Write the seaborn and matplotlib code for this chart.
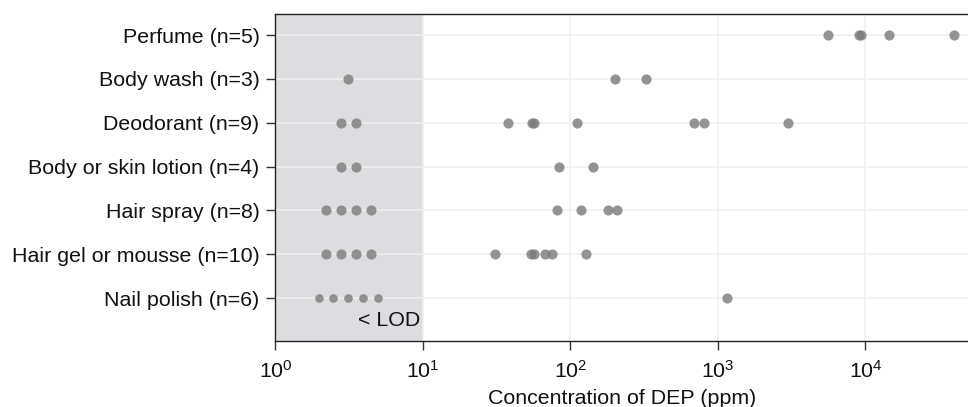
import matplotlib
matplotlib.use("Agg")
import matplotlib.pyplot as plt
import pandas as pd
import seaborn as sns
from matplotlib.ticker import LogLocator, NullLocator

# product categories, top to bottom
products = [
    "Perfume (n=5)",
    "Body wash (n=3)",
    "Deodorant (n=9)",
    "Body or skin lotion (n=4)",
    "Hair spray (n=8)",
    "Hair gel or mousse (n=10)",
    "Nail polish (n=6)",
]

# DEP concentrations (ppm); values below 10 are < LOD
perfume = [5600, 9000, 9300, 14400, 39800]
body_wash = [3.1, 200, 327]
deodorant = [2.77, 3.51, 37.9, 55, 57, 111, 684, 808, 2970]
body_lotion = [2.77, 3.51, 84, 142]
hair_spray = [2.2, 2.77, 3.51, 4.42, 81, 118, 179, 207]
hair_gel = [2.2, 2.77, 3.51, 4.42, 30.9, 54, 56.5, 66.8, 75.3, 128]
nail_polish = [1.97, 2.47, 3.12, 3.94, 4.93, 1157]

LOD = 10

series = [perfume, body_wash, deodorant, body_lotion, hair_spray, hair_gel, nail_polish]
df = pd.DataFrame(
    [(p, v) for p, vals in zip(products, series) for v in vals],
    columns=["product", "conc"],
)
df["product"] = pd.Categorical(df["product"], categories=products, ordered=True)

sns.set_style("white")
plt.rcParams["font.family"] = ["Liberation Sans", "DejaVu Sans"]
FS = 15.4

fig = plt.figure(figsize=(9.68, 4.07), dpi=100)
ax = fig.add_axes([0.2846, 0.162, 0.7154, 0.8034])
ax.set_xscale("log")

# < LOD shading
ax.axvspan(1, LOD, color="#dcdde0", zorder=0, lw=0)

small = df["product"] == "Nail polish (n=6)"
dot = dict(jitter=False, ax=ax, color="#7a7a7a", alpha=0.8, linewidth=0,
           zorder=3, order=products)
sns.stripplot(data=df[~small], x="conc", y="product", size=7.3, **dot)
sns.stripplot(data=df[small & (df["conc"] < LOD)], x="conc", y="product", size=6.2, **dot)
sns.stripplot(data=df[small & (df["conc"] >= LOD)], x="conc", y="product", size=7.3, **dot)

ax.set_xlim(1, 10 ** 4.695)
ax.set_ylim(6.98, -0.48)
ax.xaxis.set_major_locator(LogLocator(base=10, numticks=10))
ax.xaxis.set_minor_locator(NullLocator())

ax.grid(True, color="#f0f0f0", lw=1.2, zorder=1)
ax.set_axisbelow(True)

for side in ["left", "bottom", "top"]:
    ax.spines[side].set_visible(True)
    ax.spines[side].set_color("#222222")
    ax.spines[side].set_linewidth(1.0)
ax.spines["right"].set_visible(False)

ax.tick_params(axis="both", which="major", direction="out", length=6.5, width=1,
               color="#333333", labelsize=FS, labelcolor="#111111",
               left=True, bottom=True)
ax.tick_params(axis="x", pad=7)
ax.tick_params(axis="y", pad=5)
ax.set_ylabel("")
ax.set_xlabel("Concentration of DEP (ppm)", fontsize=FS, color="#111111", labelpad=5)

ax.text(9.6, 6.52, "< LOD", ha="right", va="center", fontsize=FS, color="#111111")

fig.savefig("out.png", dpi=100)
